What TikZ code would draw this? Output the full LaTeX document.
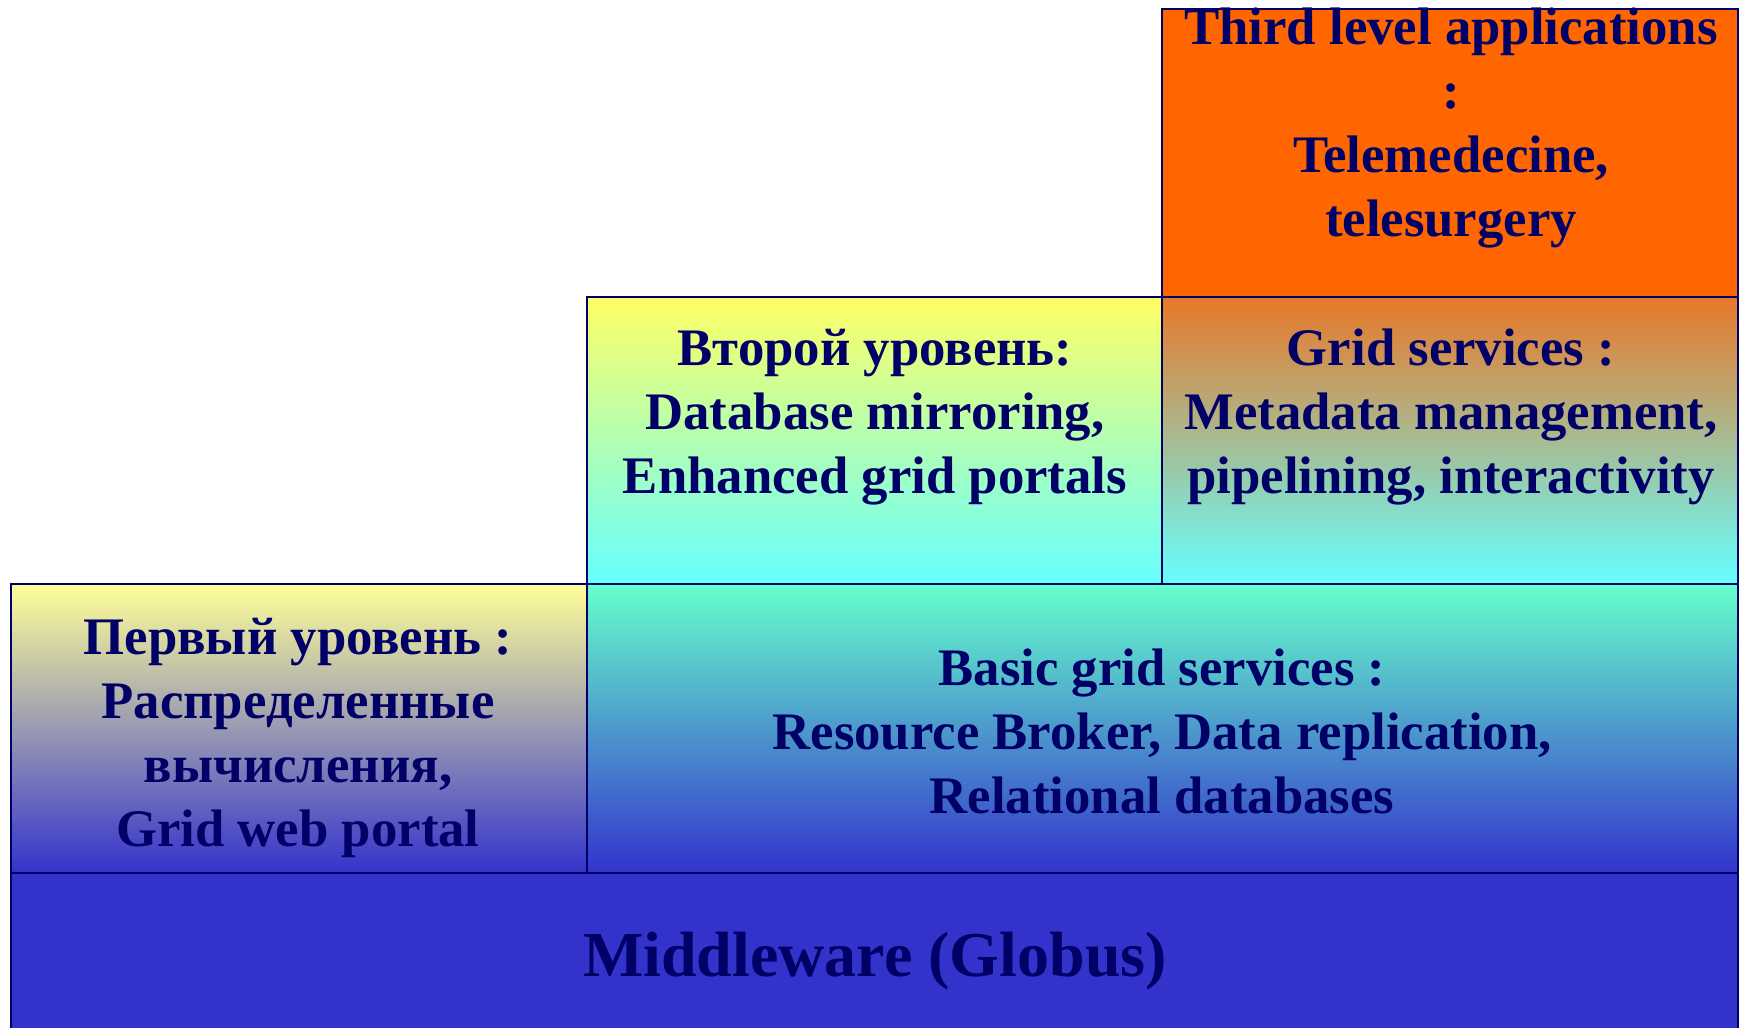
\documentclass[tikz,border=0pt]{standalone}
\usepackage{fontspec}
\setmainfont{Liberation Serif}
\usepackage{xcolor}
\usepackage{tikz}
\usetikzlibrary{positioning, calc}

\definecolor{navy}{RGB}{0,0,102}
\definecolor{midblue}{RGB}{51,51,204}
\definecolor{apporange}{RGB}{255,102,0}
\definecolor{svcorange}{RGB}{232,120,40}
\definecolor{lightcyan}{RGB}{102,255,255}
\definecolor{mint}{RGB}{102,255,204}
\definecolor{paleyellow}{RGB}{255,255,153}
\definecolor{lemon}{RGB}{255,255,102}

\tikzset{
  layer/.style={draw=navy, line width=0.6pt},
  layertext/.style={align=center, text=navy, font=\fontsize{15}{18.2}\selectfont\bfseries}
}

\begin{document}
\begin{tikzpicture}[x=0.01cm, y=-0.01cm]
\useasboundingbox (0,0) rectangle (1739,1028);

\fill[layer, fill=midblue] (11,873) rectangle (1738,1040);
\shade[layer, top color=paleyellow, bottom color=midblue] (11,584) rectangle (587,873);
\shade[layer, top color=mint, bottom color=midblue] (587,584) rectangle (1738,873);
\shade[layer, top color=lemon, bottom color=lightcyan] (587,297) rectangle (1162,584);
\shade[layer, top color=svcorange, bottom color=lightcyan] (1162,297) rectangle (1738,584);
\fill[layer, fill=apporange] (1162,9) rectangle (1738,297);

\node (middleware)[layertext, font=\fontsize{18.2}{22}\selectfont\bfseries] at (875,961) {Middleware (Globus)};

\node (firstlevel)[layertext] at (298,738) {Первый уровень :\\Распределенные\\вычисления,\\Grid web portal};

\node (basic)[layertext] at (1162,731) {Basic grid services :\\Resource Broker, Data replication,\\Relational databases};

\node (secondlevel)[layertext] at (875,417) {Второй уровень:\\Database mirroring,\\Enhanced grid portals};

\node (gridsvc)[layertext] at (1451,417) {Grid services :\\Metadata management,\\pipelining, interactivity};

\node (thirdlevel)[layertext] at (1451,128) {Third level applications\\:\\Telemedecine,\\telesurgery};

\end{tikzpicture}
\end{document}
